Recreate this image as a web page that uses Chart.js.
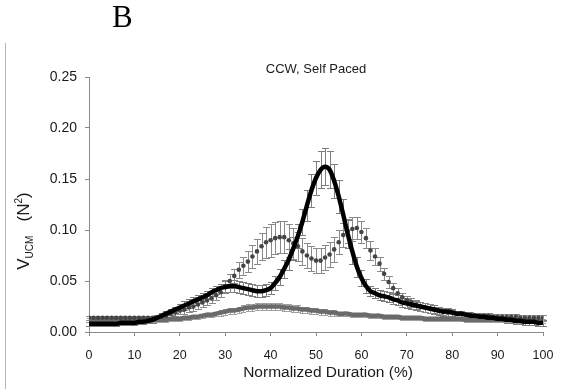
<!DOCTYPE html>
<html>
<head>
<meta charset="utf-8">
<script src="https://cdn.jsdelivr.net/npm/chart.js@4/dist/chart.umd.min.js"></script>
<style>
  html, body { margin: 0; padding: 0; background: #fff; }
  #wrap { position: relative; width: 562px; height: 389px; }
</style>
</head>
<body>
<div id="wrap"><canvas id="c" width="562" height="389"></canvas></div>
<script>
// Normalized duration (%), 0..100 in 1% steps
const duration = Array.from({ length: 101 }, (_, i) => i);

// Mean variance, solid black curve
const meanSolid = [
  0.008, 0.008, 0.008, 0.008, 0.008, 0.008, 0.008, 0.009, 0.009, 0.009,
  0.009, 0.010, 0.010, 0.011, 0.012, 0.014, 0.016, 0.018, 0.020, 0.022,
  0.024, 0.026, 0.028, 0.030, 0.032, 0.034, 0.036, 0.039, 0.041, 0.043,
  0.044, 0.045, 0.045, 0.044, 0.043, 0.042, 0.041, 0.040, 0.040, 0.041,
  0.043, 0.048, 0.054, 0.062, 0.071, 0.082, 0.094, 0.108, 0.124, 0.139,
  0.151, 0.159, 0.162, 0.159, 0.148, 0.133, 0.115, 0.096, 0.079, 0.064,
  0.053, 0.045, 0.040, 0.038, 0.036, 0.035, 0.034, 0.032, 0.031, 0.029,
  0.028, 0.027, 0.026, 0.025, 0.024, 0.023, 0.022, 0.021, 0.020, 0.020,
  0.019, 0.018, 0.018, 0.017, 0.016, 0.016, 0.015, 0.015, 0.014, 0.014,
  0.013, 0.013, 0.012, 0.012, 0.011, 0.011, 0.010, 0.010, 0.010, 0.009,
  0.009
];
const errSolid = [
  0.002, 0.002, 0.002, 0.002, 0.002, 0.002, 0.002, 0.002, 0.002, 0.002,
  0.002, 0.002, 0.002, 0.002, 0.003, 0.003, 0.003, 0.003, 0.003, 0.003,
  0.003, 0.004, 0.004, 0.004, 0.004, 0.004, 0.004, 0.004, 0.004, 0.004,
  0.006, 0.006, 0.006, 0.006, 0.006, 0.006, 0.006, 0.006, 0.006, 0.006,
  0.006, 0.007, 0.008, 0.009, 0.010, 0.011, 0.012, 0.013, 0.015, 0.016,
  0.017, 0.018, 0.018, 0.018, 0.017, 0.016, 0.015, 0.014, 0.012, 0.010,
  0.008, 0.007, 0.005, 0.005, 0.005, 0.005, 0.005, 0.005, 0.005, 0.004,
  0.004, 0.004, 0.004, 0.004, 0.004, 0.004, 0.004, 0.004, 0.004, 0.004,
  0.004, 0.003, 0.003, 0.003, 0.003, 0.003, 0.003, 0.003, 0.003, 0.003,
  0.003, 0.003, 0.003, 0.003, 0.003, 0.003, 0.003, 0.003, 0.003, 0.003,
  0.003
];

// Mean variance, dark dots
const meanDots = [
  0.014, 0.014, 0.014, 0.014, 0.014, 0.014, 0.014, 0.014, 0.014, 0.014,
  0.014, 0.014, 0.014, 0.014, 0.014, 0.014, 0.015, 0.016, 0.018, 0.019,
  0.021, 0.022, 0.024, 0.025, 0.027, 0.029, 0.031, 0.033, 0.036, 0.039,
  0.045, 0.050, 0.055, 0.061, 0.065, 0.069, 0.074, 0.079, 0.084, 0.088,
  0.090, 0.092, 0.093, 0.093, 0.090, 0.087, 0.084, 0.079, 0.075, 0.072,
  0.070, 0.070, 0.073, 0.076, 0.081, 0.088, 0.095, 0.099, 0.101, 0.102,
  0.098, 0.092, 0.080, 0.074, 0.067, 0.057, 0.049, 0.043, 0.038, 0.034,
  0.031, 0.029, 0.027, 0.025, 0.024, 0.023, 0.022, 0.021, 0.020, 0.019,
  0.019, 0.018, 0.018, 0.017, 0.017, 0.016, 0.016, 0.016, 0.016, 0.015,
  0.015, 0.015, 0.015, 0.015, 0.015, 0.014, 0.014, 0.014, 0.014, 0.014,
  0.014
];
const errDots = [
  0.002, 0.002, 0.002, 0.002, 0.002, 0.002, 0.002, 0.002, 0.002, 0.002,
  0.002, 0.002, 0.002, 0.002, 0.002, 0.002, 0.003, 0.003, 0.003, 0.003,
  0.003, 0.004, 0.004, 0.004, 0.004, 0.004, 0.005, 0.005, 0.005, 0.005,
  0.006, 0.007, 0.007, 0.008, 0.009, 0.010, 0.011, 0.012, 0.013, 0.015,
  0.016, 0.016, 0.016, 0.016, 0.016, 0.015, 0.014, 0.013, 0.012, 0.012,
  0.012, 0.012, 0.012, 0.012, 0.012, 0.012, 0.012, 0.012, 0.012, 0.011,
  0.011, 0.010, 0.009, 0.008, 0.007, 0.006, 0.006, 0.005, 0.005, 0.004,
  0.004, 0.004, 0.004, 0.004, 0.004, 0.004, 0.003, 0.003, 0.003, 0.003,
  0.003, 0.003, 0.003, 0.003, 0.003, 0.003, 0.003, 0.003, 0.003, 0.003,
  0.003, 0.003, 0.003, 0.003, 0.003, 0.003, 0.003, 0.003, 0.003, 0.003,
  0.003
];

// Mean variance, grey lower curve
const meanGrey = [
  0.012, 0.012, 0.012, 0.012, 0.012, 0.012, 0.012, 0.012, 0.012, 0.012,
  0.012, 0.012, 0.012, 0.012, 0.012, 0.012, 0.012, 0.012, 0.013, 0.013,
  0.013, 0.014, 0.014, 0.015, 0.015, 0.016, 0.017, 0.017, 0.018, 0.019,
  0.020, 0.021, 0.021, 0.022, 0.023, 0.024, 0.024, 0.025, 0.025, 0.025,
  0.025, 0.025, 0.025, 0.024, 0.024, 0.023, 0.023, 0.022, 0.022, 0.021,
  0.021, 0.020, 0.020, 0.019, 0.019, 0.018, 0.018, 0.018, 0.017, 0.017,
  0.017, 0.017, 0.016, 0.016, 0.016, 0.015, 0.015, 0.015, 0.015, 0.014,
  0.014, 0.014, 0.014, 0.014, 0.013, 0.013, 0.013, 0.013, 0.013, 0.013,
  0.013, 0.013, 0.013, 0.012, 0.012, 0.012, 0.012, 0.012, 0.012, 0.012,
  0.012, 0.012, 0.012, 0.012, 0.011, 0.011, 0.011, 0.011, 0.011, 0.011,
  0.011
];
const errGrey = [
  0.002, 0.002, 0.002, 0.002, 0.002, 0.002, 0.002, 0.002, 0.002, 0.002,
  0.002, 0.002, 0.002, 0.002, 0.002, 0.002, 0.002, 0.002, 0.002, 0.002,
  0.002, 0.002, 0.002, 0.002, 0.002, 0.002, 0.002, 0.002, 0.002, 0.003,
  0.003, 0.003, 0.003, 0.003, 0.003, 0.003, 0.003, 0.003, 0.003, 0.003,
  0.003, 0.003, 0.003, 0.003, 0.003, 0.003, 0.003, 0.003, 0.003, 0.003,
  0.003, 0.003, 0.003, 0.003, 0.003, 0.002, 0.002, 0.002, 0.002, 0.002,
  0.002, 0.002, 0.002, 0.002, 0.002, 0.002, 0.002, 0.002, 0.002, 0.002,
  0.002, 0.002, 0.002, 0.002, 0.002, 0.002, 0.002, 0.002, 0.002, 0.002,
  0.002, 0.002, 0.002, 0.002, 0.002, 0.002, 0.002, 0.002, 0.002, 0.002,
  0.002, 0.002, 0.002, 0.002, 0.002, 0.002, 0.002, 0.002, 0.002, 0.002,
  0.002
];

// Axis ticks
const xTicks = [0, 10, 20, 30, 40, 50, 60, 70, 80, 90, 100];
const yTicks = [0, 0.05, 0.10, 0.15, 0.20, 0.25];

const FONT = "'Liberation Sans', Arial, sans-serif";
const TEXT = '#1a1a1a';
const AXIS = '#8a8a8a';

const pts = (vals) => vals.map((v, i) => ({ x: duration[i], y: v }));

// Vertical error bars with caps, drawn under the curves
const errorBars = {
  id: 'errorBars',
  beforeDatasetsDraw(chart) {
    const { ctx, scales: { x, y } } = chart;
    ctx.save();
    chart.data.datasets.forEach((ds) => {
      if (!ds.errors) return;
      ctx.strokeStyle = ds.errorColor;
      ctx.lineWidth = 1;
      const half = ds.capWidth / 2;
      ds.data.forEach((p, i) => {
        const e = ds.errors[i];
        const px = Math.round(x.getPixelForValue(p.x)) + 0.5;
        const top = Math.round(y.getPixelForValue(p.y + e)) + 0.5;
        const bot = Math.round(y.getPixelForValue(p.y - e)) + 0.5;
        ctx.beginPath();
        ctx.moveTo(px, top); ctx.lineTo(px, bot);
        ctx.moveTo(px - half, top); ctx.lineTo(px + half, top);
        ctx.moveTo(px - half, bot); ctx.lineTo(px + half, bot);
        ctx.stroke();
      });
    });
    ctx.restore();
  }
};

// Panel letter, frame line, chart title, x title and the y-axis title with sub/superscript
const decorations = {
  id: 'decorations',
  afterDraw(chart) {
    const { ctx, chartArea } = chart;
    ctx.save();
    ctx.strokeStyle = '#b5b5b5';
    ctx.lineWidth = 1;
    ctx.beginPath();
    ctx.moveTo(5.5, 43); ctx.lineTo(5.5, 389);
    ctx.stroke();

    ctx.fillStyle = '#000';
    ctx.font = "31px 'Liberation Serif', 'Times New Roman', serif";
    ctx.textBaseline = 'alphabetic';
    ctx.textAlign = 'left';
    ctx.fillText('B', 112, 27);

    ctx.fillStyle = TEXT;
    ctx.font = '13px ' + FONT;
    ctx.textAlign = 'center';
    ctx.textBaseline = 'middle';
    ctx.fillText('CCW, Self Paced', (chartArea.left + chartArea.right) / 2, 69);

    ctx.font = '15.5px ' + FONT;
    ctx.fillText('Normalized Duration (%)', (chartArea.left + chartArea.right) / 2 + 12, 373);

    // y title: V_UCM (N^2)
    ctx.translate(29, 231);
    ctx.rotate(-Math.PI / 2);
    ctx.textAlign = 'left';
    ctx.textBaseline = 'alphabetic';
    const big = '17px ' + FONT, small = '10px ' + FONT;
    const parts = [
      { t: 'V', f: big, dy: 0 },
      { t: 'UCM', f: small, dy: 4 },
      { t: '   (N', f: big, dy: 0 },
      { t: '2', f: small, dy: -7 },
      { t: ')', f: big, dy: 0 }
    ];
    let total = 0;
    parts.forEach((p) => { ctx.font = p.f; p.w = ctx.measureText(p.t).width; total += p.w; });
    let cx = -total / 2;
    parts.forEach((p) => { ctx.font = p.f; ctx.fillText(p.t, cx, p.dy); cx += p.w; });
    ctx.restore();
  }
};

new Chart(document.getElementById('c'), {
  type: 'line',
  data: {
    datasets: [
      {
        label: 'Solid',
        data: pts(meanSolid),
        errors: errSolid,
        errorColor: '#7d7d7d',
        capWidth: 7,
        borderColor: '#000',
        borderWidth: 4.5,
        pointRadius: 0,
        tension: 0.3,
        order: 1
      },
      {
        label: 'Dots',
        data: pts(meanDots),
        errors: errDots,
        errorColor: '#8a8a8a',
        capWidth: 7,
        showLine: false,
        pointRadius: 2.3,
        pointBackgroundColor: '#454545',
        pointBorderColor: '#454545',
        pointBorderWidth: 0,
        order: 2
      },
      {
        label: 'Grey',
        data: pts(meanGrey),
        errors: errGrey,
        errorColor: '#a0a0a0',
        capWidth: 5,
        borderColor: '#6a6a6a',
        borderWidth: 4.5,
        pointRadius: 0,
        tension: 0.3,
        order: 3
      }
    ]
  },
  options: {
    responsive: false,
    animation: false,
    events: [],
    layout: { padding: { top: 77, right: 19, left: 0, bottom: 0 } },
    plugins: { legend: { display: false }, tooltip: { enabled: false }, title: { display: false } },
    scales: {
      x: {
        type: 'linear',
        min: 0, max: 100,
        afterBuildTicks(scale) { scale.ticks = xTicks.map((v) => ({ value: v })); },
        afterFit(scale) {
          scale.height = 57;
          scale.paddingLeft = 0;
          scale.paddingRight = 0;
        },
        grid: { drawOnChartArea: false, drawTicks: true, tickLength: 4, color: AXIS, tickColor: AXIS },
        border: { color: AXIS, width: 1 },
        ticks: { color: TEXT, font: { family: FONT, size: 12.5 }, padding: 12, maxRotation: 0 }
      },
      y: {
        type: 'linear',
        min: 0, max: 0.25,
        afterBuildTicks(scale) { scale.ticks = yTicks.map((v) => ({ value: v })); },
        afterFit(scale) {
          scale.width = 89;
          scale.paddingTop = 0;
          scale.paddingBottom = 0;
        },
        grid: { drawOnChartArea: false, drawTicks: true, tickLength: 4, color: AXIS, tickColor: AXIS },
        border: { color: AXIS, width: 1 },
        ticks: {
          color: TEXT,
          font: { family: FONT, size: 14 },
          padding: 8,
          callback: (v) => Number(v).toFixed(2)
        }
      }
    }
  },
  plugins: [errorBars, decorations]
});
</script>
</body>
</html>
